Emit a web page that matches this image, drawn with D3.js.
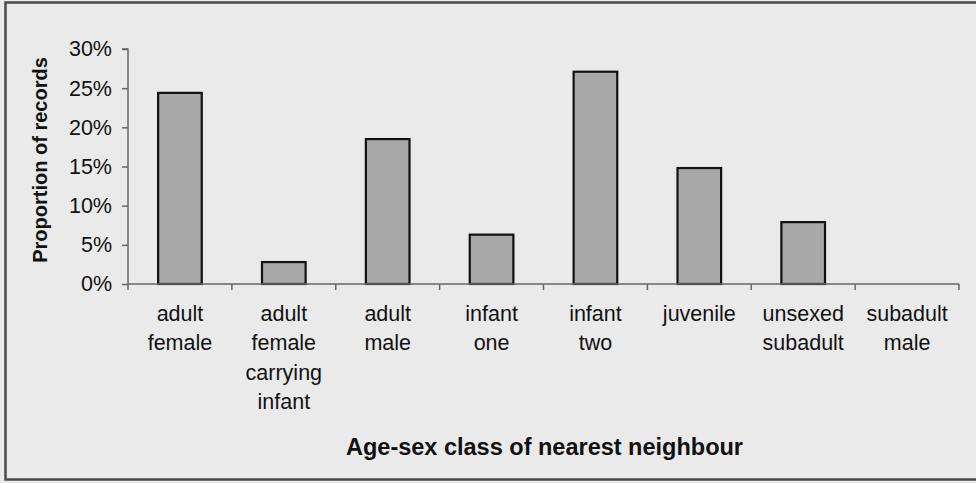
<!DOCTYPE html>
<html>
<head>
<meta charset="utf-8">
<script src="https://cdn.jsdelivr.net/npm/d3@7"></script>
<style>
  html, body { margin: 0; padding: 0; background: #eaeaea; }
  svg { display: block; }
  text { font-family: "Liberation Sans", Arial, sans-serif; fill: #111; }
</style>
</head>
<body>
<svg id="chart" width="976" height="483"></svg>
<script>
// Age-sex class of nearest neighbour (proportion of records)
const categories = [
  "adult female",
  "adult female carrying infant",
  "adult male",
  "infant one",
  "infant two",
  "juvenile",
  "unsexed subadult",
  "subadult male"
];
const categoryLines = [
  ["adult", "female"],
  ["adult", "female", "carrying", "infant"],
  ["adult", "male"],
  ["infant", "one"],
  ["infant", "two"],
  ["juvenile"],
  ["unsexed", "subadult"],
  ["subadult", "male"]
];
const proportions = [0.244, 0.028, 0.185, 0.063, 0.271, 0.148, 0.079, 0.0];
const yTicks = [0, 0.05, 0.10, 0.15, 0.20, 0.25, 0.30];

const svg = d3.select("#chart");

// chart frame (open on the right)
svg.append("path")
  .attr("d", "M976,2.5 H5.5 V479.5 H976")
  .attr("fill", "none")
  .attr("stroke", "#4a4a4a")
  .attr("stroke-width", 2.5);

const plot = { left: 128, right: 959, top: 49, bottom: 284 };

const x = d3.scaleBand()
  .domain(categories)
  .range([plot.left, plot.right])
  .paddingInner(0.58)
  .paddingOuter(0.29);

const xEdges = d3.scalePoint()
  .domain(d3.range(categories.length + 1))
  .range([plot.left, plot.right]);

const y = d3.scaleLinear()
  .domain([0, 0.30])
  .range([plot.bottom, plot.top]);

// bars
svg.append("g")
  .selectAll("rect")
  .data(categories)
  .join("rect")
  .attr("x", d => x(d))
  .attr("width", x.bandwidth())
  .attr("y", (d, i) => y(proportions[i]))
  .attr("height", (d, i) => y(0) - y(proportions[i]))
  .attr("fill", "#a8a8a8")
  .attr("stroke", "#111")
  .attr("stroke-width", 2.2);

// y axis
const yAxis = d3.axisLeft(y)
  .tickValues(yTicks)
  .tickFormat(d3.format(".0%"))
  .tickSize(6)
  .tickPadding(10);

const gy = svg.append("g")
  .attr("transform", `translate(${plot.left},0)`)
  .call(yAxis);
gy.select(".domain").attr("stroke", "#666").attr("stroke-width", 1.5).attr("d", `M-6,${plot.top}H0V${plot.bottom}`);
gy.selectAll(".tick line").attr("stroke", "#666").attr("stroke-width", 1.5);
gy.selectAll(".tick text")
  .attr("font-size", 21.5)
  .attr("fill", "#111")
  .style("font-family", "'Liberation Sans', Arial, sans-serif");

// x axis line with category separators
const gx = svg.append("g");
gx.append("line")
  .attr("x1", plot.left).attr("x2", plot.right)
  .attr("y1", plot.bottom).attr("y2", plot.bottom)
  .attr("stroke", "#666").attr("stroke-width", 1.5);
gx.selectAll("line.sep")
  .data(xEdges.domain())
  .join("line")
  .attr("class", "sep")
  .attr("x1", d => xEdges(d)).attr("x2", d => xEdges(d))
  .attr("y1", plot.bottom).attr("y2", plot.bottom + 6)
  .attr("stroke", "#666").attr("stroke-width", 1.5);

// multi-line category labels
const lab = svg.append("g")
  .selectAll("text")
  .data(categories)
  .join("text")
  .attr("text-anchor", "middle")
  .attr("font-size", 21.5)
  .attr("transform", d => `translate(${x(d) + x.bandwidth() / 2},321)`);
lab.selectAll("tspan")
  .data((d, i) => categoryLines[i])
  .join("tspan")
  .attr("x", 0)
  .attr("y", (d, i) => i * 29.3)
  .text(d => d);

// axis titles
svg.append("text")
  .attr("x", (plot.left + plot.right) / 2 + 1)
  .attr("y", 455)
  .attr("text-anchor", "middle")
  .attr("font-size", 23.5)
  .attr("font-weight", "bold")
  .text("Age-sex class of nearest neighbour");

svg.append("text")
  .attr("transform", `translate(47,160) rotate(-90)`)
  .attr("text-anchor", "middle")
  .attr("font-size", 20)
  .attr("font-weight", "bold")
  .text("Proportion of records");
</script>
</body>
</html>
